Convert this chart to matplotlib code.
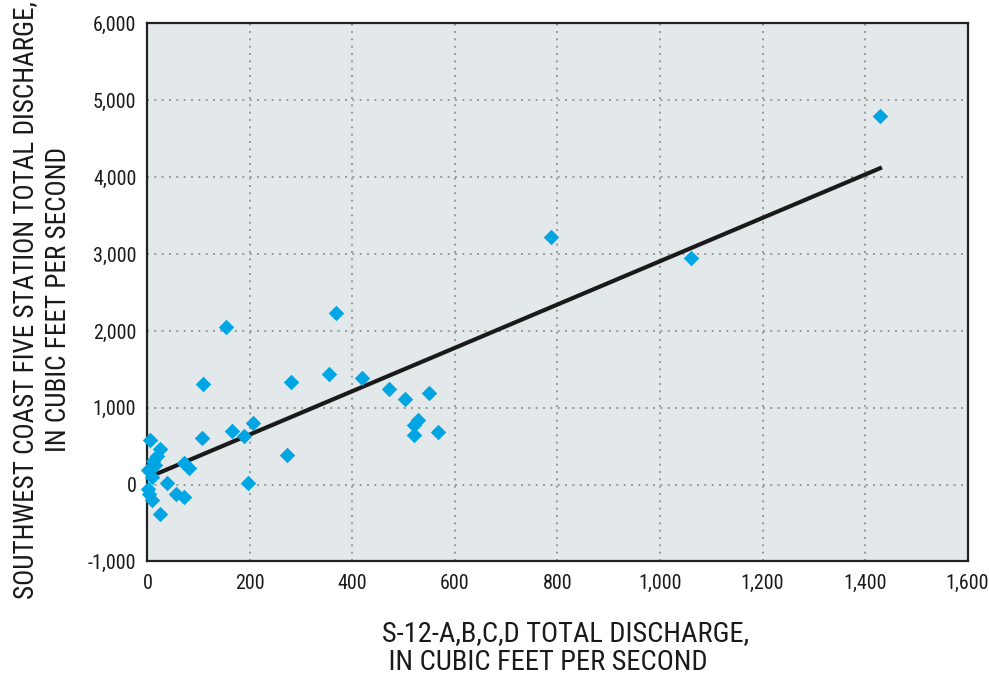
import matplotlib
matplotlib.use("Agg")
import matplotlib.pyplot as plt
from matplotlib import font_manager

# ---- data ----
x_vals = [1430, 787, 1060, 367, 154, 108, 280, 355, 419, 471, 503, 549, 528, 521,
          520, 567, 272, 197, 107, 165, 205, 189, 81, 71, 38, 55, 72, 24,
          4, 24, 18, 11, 1, 8, 1, 3, 8, 14]
y_vals = [4800, 3225, 2945, 2233, 2055, 1306, 1329, 1437, 1381, 1250, 1120, 1198, 846, 772,
          641, 685, 390, 20, 605, 694, 807, 628, 215, 285, 20, -120, -155, -385,
          576, 458, 375, 310, 185, 100, -60, -120, -206, 250]
trend_x = [0, 1433]
trend_y = [90, 4127]

x_ticks = [0, 200, 400, 600, 800, 1000, 1200, 1400, 1600]
x_tick_labels = ["0", "200", "400", "600", "800", "1,000", "1,200", "1,400", "1,600"]
y_ticks = [-1000, 0, 1000, 2000, 3000, 4000, 5000, 6000]
y_tick_labels = ["-1,000", "0", "1,000", "2,000", "3,000", "4,000", "5,000", "6,000"]

names = {f.name for f in font_manager.fontManager.ttflist}
fam = 'DejaVu Sans'
for cand in ['Liberation Sans Narrow', 'Roboto Condensed', 'Open Sans Condensed', 'Arial Narrow']:
    if cand in names:
        fam = cand
        break
plt.rcParams['font.family'] = [fam, 'DejaVu Sans']
plt.rcParams['font.stretch'] = 'condensed'

fig = plt.figure(figsize=(9.89, 6.81), dpi=100)
ax = fig.add_axes([0.1491, 0.1755, 0.8292, 0.79])
ax.set_facecolor('#E3E8EB')

ax.set_xlim(0, 1600)
ax.set_ylim(-1000, 6000)
ax.set_xticks(x_ticks)
ax.set_xticklabels(x_tick_labels)
ax.set_yticks(y_ticks)
ax.set_yticklabels(y_tick_labels)
ax.tick_params(length=0, labelsize=14.5, colors='#1a1a1a')
ax.tick_params(axis='x', pad=9)
ax.tick_params(axis='y', pad=8)

ax.grid(True, color='#8c8c8c', linestyle=(0, (1.2, 3.2)), linewidth=1.2)
ax.set_axisbelow(True)

for s in ax.spines.values():
    s.set_color('#222222')
    s.set_linewidth(1.6)

ax.plot(trend_x, trend_y, color='#1a1a1a', linewidth=3.0, solid_capstyle='butt', zorder=3)
ax.scatter(x_vals, y_vals, marker='D', s=62, color='#00A5E3', linewidths=0, zorder=4, clip_on=False)

fig.text(382 / 989, 1 - 648 / 681, "S-12-A,B,C,D TOTAL DISCHARGE,\n IN CUBIC FEET PER SECOND",
         ha='left', va='center', multialignment='left', fontsize=20.5, color='#1a1a1a', linespacing=1.08)
fig.text(42 / 989, 1 - 300 / 681, "SOUTHWEST COAST FIVE STATION TOTAL DISCHARGE,\nIN CUBIC FEET PER SECOND",
         ha='center', va='center', rotation=90, multialignment='center', fontsize=19.5,
         color='#1a1a1a', linespacing=1.3)

fig.savefig("out.png", dpi=100)
